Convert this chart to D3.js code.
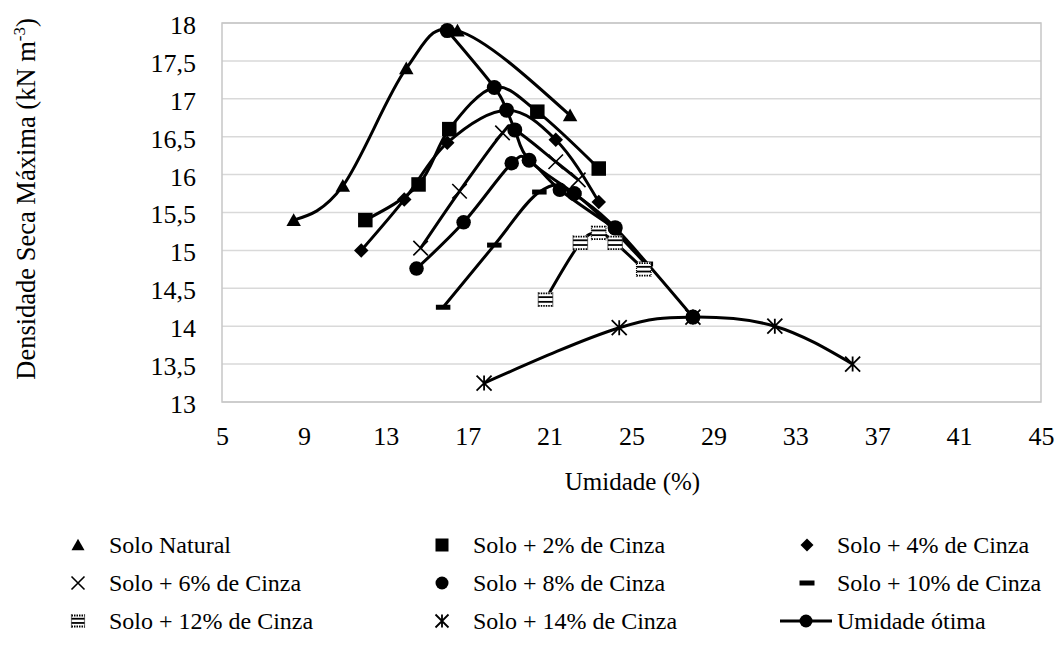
<!DOCTYPE html>
<html>
<head>
<meta charset="utf-8">
<script src="https://cdn.jsdelivr.net/npm/d3@7"></script>
<style>
  html, body { margin: 0; padding: 0; background: #fff; }
  svg { display: block; }
  svg text { font-family: "Liberation Serif", "Times New Roman", Tinos, Times, "DejaVu Serif", serif; fill: #000; }
</style>
</head>
<body>
<svg id="chart" width="1059" height="648"></svg>
<script>
// ---------- data ----------
const seriesNames = ["Solo Natural", "Solo + 2% de Cinza", "Solo + 4% de Cinza",
  "Solo + 6% de Cinza", "Solo + 8% de Cinza", "Solo + 10% de Cinza",
  "Solo + 12% de Cinza", "Solo + 14% de Cinza"];
const xNatural = [8.5, 10.9, 14.0, 16.5, 22.0];
const yNatural = [15.4, 15.85, 17.4, 17.9, 16.78];
const x2 = [12.0, 14.6, 16.1, 20.4, 23.4];
const y2 = [15.4, 15.87, 16.6, 16.83, 16.08];
const x4 = [11.8, 13.9, 16.0, 21.3, 23.4];
const y4 = [15.0, 15.67, 16.42, 16.46, 15.64];
const x6 = [14.7, 16.6, 18.7, 21.3, 22.4];
const y6 = [15.03, 15.78, 16.55, 16.17, 15.93];
const x8 = [14.5, 16.8, 19.15, 21.5, 24.2];
const y8 = [14.76, 15.37, 16.15, 15.8, 15.29];
const x10 = [15.8, 18.3, 20.5, 22.2, 25.7];
const y10 = [14.25, 15.07, 15.77, 15.75, 14.82];
const x12 = [20.8, 22.5, 23.4, 24.2, 25.6];
const y12 = [14.35, 15.1, 15.23, 15.1, 14.75];
const x14 = [17.8, 24.4, 28.0, 32.0, 35.8];
const y14 = [13.25, 13.98, 14.12, 14.0, 13.5];
// optimum (one per series)
const xOtima = [16.0, 18.3, 18.9, 19.3, 20.0, 22.2, 24.2, 28.0];
const yOtima = [17.9, 17.15, 16.85, 16.59, 16.19, 15.75, 15.3, 14.12];
// whether each fitted curve passes through its optimum point
const curveThroughOptimum = [false, true, true, true, true, false, false, false];
const otimaName = "Umidade ótima";
const xTicks = [5, 9, 13, 17, 21, 25, 29, 33, 37, 41, 45];
const yTicks = [13, 13.5, 14, 14.5, 15, 15.5, 16, 16.5, 17, 17.5, 18];
const xTitle = "Umidade (%)";
const yTitleMain = "Densidade Seca Máxima (kN m";
const yTitleSup = "-3";
const yTitleEnd = ")";

const seriesX = [xNatural, x2, x4, x6, x8, x10, x12, x14];
const seriesY = [yNatural, y2, y4, y6, y8, y10, y12, y14];
const markerTypes = ["triangle", "square", "diamond", "x", "circle", "dash", "stripe", "asterisk"];

// ---------- layout ----------
const svg = d3.select("#chart");
const L = 222, R = 1041, T = 23, B = 402;
const x = d3.scaleLinear().domain([5, 45]).range([L, R]);
const y = d3.scaleLinear().domain([13, 18]).range([B, T]);
const fmt = v => String(v).replace(".", ",");
const FONT = '"Liberation Serif", "Times New Roman", Tinos, Times, "DejaVu Serif", serif';

// gridlines
svg.append("g").selectAll("line").data(yTicks).join("line")
  .attr("x1", L).attr("x2", R)
  .attr("y1", d => y(d)).attr("y2", d => y(d))
  .attr("stroke", "#d9d9d9").attr("stroke-width", 1.5);
svg.append("rect").attr("x", L).attr("y", T).attr("width", R - L).attr("height", B - T)
  .attr("fill", "none").attr("stroke", "#c6c6c6").attr("stroke-width", 1.5);

// axes
const yAxis = svg.append("g").attr("transform", `translate(${L},0)`)
  .call(d3.axisLeft(y).tickValues(yTicks).tickFormat(fmt).tickSize(0).tickPadding(26));
yAxis.select(".domain").remove();
yAxis.attr("font-family", FONT);
yAxis.selectAll("text").attr("font-size", 26).attr("fill", "#000").attr("dy", "0.4em");

const xAxis = svg.append("g").attr("transform", `translate(0,${B})`)
  .call(d3.axisBottom(x).tickValues(xTicks).tickFormat(fmt).tickSize(0).tickPadding(25));
xAxis.select(".domain").remove();
xAxis.attr("font-family", FONT);
xAxis.selectAll("text").attr("font-size", 26).attr("fill", "#000");

// axis titles
svg.append("text").attr("x", (L + R) / 2 + 1).attr("y", 490)
  .attr("text-anchor", "middle").attr("font-size", 25).text(xTitle);
const yt = svg.append("text").attr("transform", `translate(35,${199}) rotate(-90)`)
  .attr("text-anchor", "middle").attr("font-size", 26.5);
yt.append("tspan").text(yTitleMain);
yt.append("tspan").attr("font-size", 17).attr("dy", -10).text(yTitleSup);
yt.append("tspan").attr("dy", 10).text(yTitleEnd);

// ---------- markers ----------
function drawMarker(g, type, s) {
  const h = s / 2;
  switch (type) {
    case "triangle":
      g.append("path").attr("d", `M0,${-h * 0.95}L${h},${h * 0.8}L${-h},${h * 0.8}Z`).attr("fill", "#000");
      break;
    case "square":
      g.append("rect").attr("x", -h).attr("y", -h).attr("width", s).attr("height", s).attr("fill", "#000");
      break;
    case "diamond":
      g.append("path").attr("d", `M0,${-h}L${h},0L0,${h}L${-h},0Z`).attr("fill", "#000");
      break;
    case "x":
      g.append("path").attr("d", `M${-h},${-h}L${h},${h}M${-h},${h}L${h},${-h}`)
        .attr("stroke", "#000").attr("stroke-width", 1.6).attr("fill", "none");
      break;
    case "circle":
      g.append("circle").attr("r", h).attr("fill", "#000");
      break;
    case "dash":
      g.append("rect").attr("x", -h).attr("y", -2.5).attr("width", s).attr("height", 5).attr("fill", "#000");
      break;
    case "stripe":
      g.append("rect").attr("x", -h).attr("y", -h).attr("width", s).attr("height", s).attr("fill", "#fff");
      [-h + 1, -h * 0.35, h * 0.3, h - 1].forEach((yy, i) => {
        g.append("line").attr("x1", -h).attr("x2", h).attr("y1", yy).attr("y2", yy)
          .attr("stroke", "#000").attr("stroke-width", 1.8)
          .attr("stroke-dasharray", (i === 0 || i === 3) ? "1.5,1" : null);
      });
      [-h, h].forEach(xx => {
        g.append("line").attr("x1", xx).attr("x2", xx).attr("y1", -h).attr("y2", h)
          .attr("stroke", "#000").attr("stroke-width", 1.2).attr("stroke-dasharray", "1,1");
      });
      break;
    case "asterisk":
      g.append("path").attr("d", `M${-h},${-h}L${h},${h}M${-h},${h}L${h},${-h}M0,${-h}L0,${h}`)
        .attr("stroke", "#000").attr("stroke-width", 1.8).attr("fill", "none");
      break;
  }
}

// ---------- smoothed curve (Catmull-Rom with natural end tangents, in pixel space) ----------
function smoothPath(pts) {
  const P = pts.map(d => [x(d[0]), y(d[1])]);
  const n = P.length;
  if (n < 2) return "";
  const m = new Array(n);
  for (let i = 1; i < n - 1; i++) m[i] = [(P[i + 1][0] - P[i - 1][0]) / 2, (P[i + 1][1] - P[i - 1][1]) / 2];
  if (n === 2) {
    m[0] = [P[1][0] - P[0][0], P[1][1] - P[0][1]]; m[1] = m[0];
  } else {
    m[0] = [(3 * (P[1][0] - P[0][0]) - m[1][0]) / 2, (3 * (P[1][1] - P[0][1]) - m[1][1]) / 2];
    m[n - 1] = [(3 * (P[n - 1][0] - P[n - 2][0]) - m[n - 2][0]) / 2, (3 * (P[n - 1][1] - P[n - 2][1]) - m[n - 2][1]) / 2];
  }
  const p = d3.path();
  p.moveTo(P[0][0], P[0][1]);
  for (let i = 0; i < n - 1; i++) {
    p.bezierCurveTo(P[i][0] + m[i][0] / 3, P[i][1] + m[i][1] / 3,
      P[i + 1][0] - m[i + 1][0] / 3, P[i + 1][1] - m[i + 1][1] / 3,
      P[i + 1][0], P[i + 1][1]);
  }
  return p.toString();
}

const curvesG = svg.append("g");
const markersG = svg.append("g");

seriesX.forEach((xs, i) => {
  let pts = xs.map((v, j) => [v, seriesY[i][j]]);
  if (curveThroughOptimum[i]) pts.push([xOtima[i], yOtima[i]]);
  pts.sort((a, b) => a[0] - b[0]);
  curvesG.append("path").attr("d", smoothPath(pts))
    .attr("fill", "none").attr("stroke", "#000").attr("stroke-width", 3);
});
const otPts = xOtima.map((v, j) => [v, yOtima[j]]);
curvesG.append("path").attr("d", smoothPath(otPts))
  .attr("fill", "none").attr("stroke", "#000").attr("stroke-width", 3);

seriesX.forEach((xs, i) => {
  xs.forEach((v, j) => {
    const g = markersG.append("g").attr("transform", `translate(${x(v)},${y(seriesY[i][j])})`);
    drawMarker(g, markerTypes[i], i === 7 ? 15 : 14.5);
  });
});
otPts.forEach(p => {
  const g = markersG.append("g").attr("transform", `translate(${x(p[0])},${y(p[1])})`);
  drawMarker(g, "circle", 15);
});

// ---------- legend ----------
const legendItems = seriesNames.map((n, i) => ({ name: n, type: markerTypes[i] }))
  .concat([{ name: otimaName, type: "otima" }]);
const colMarkerX = [78, 442, 807];
const colTextX = [109, 473, 837];
const rowY = [545, 583, 621];
legendItems.forEach((it, k) => {
  const c = k % 3, r = Math.floor(k / 3);
  const g = svg.append("g");
  if (it.type === "otima") {
    g.append("line").attr("x1", colMarkerX[c] - 27).attr("x2", colMarkerX[c] + 25)
      .attr("y1", rowY[r]).attr("y2", rowY[r]).attr("stroke", "#000").attr("stroke-width", 3);
    const m = g.append("g").attr("transform", `translate(${colMarkerX[c] - 1},${rowY[r]})`);
    drawMarker(m, "circle", 13);
  } else {
    const m = g.append("g").attr("transform", `translate(${colMarkerX[c]},${rowY[r]})`);
    drawMarker(m, it.type, it.type === "dash" ? 15 : 13);
  }
  g.append("text").attr("x", colTextX[c]).attr("y", rowY[r]).attr("dy", "0.35em")
    .attr("font-family", FONT).attr("font-size", 24).text(it.name);
});
</script>
</body>
</html>
